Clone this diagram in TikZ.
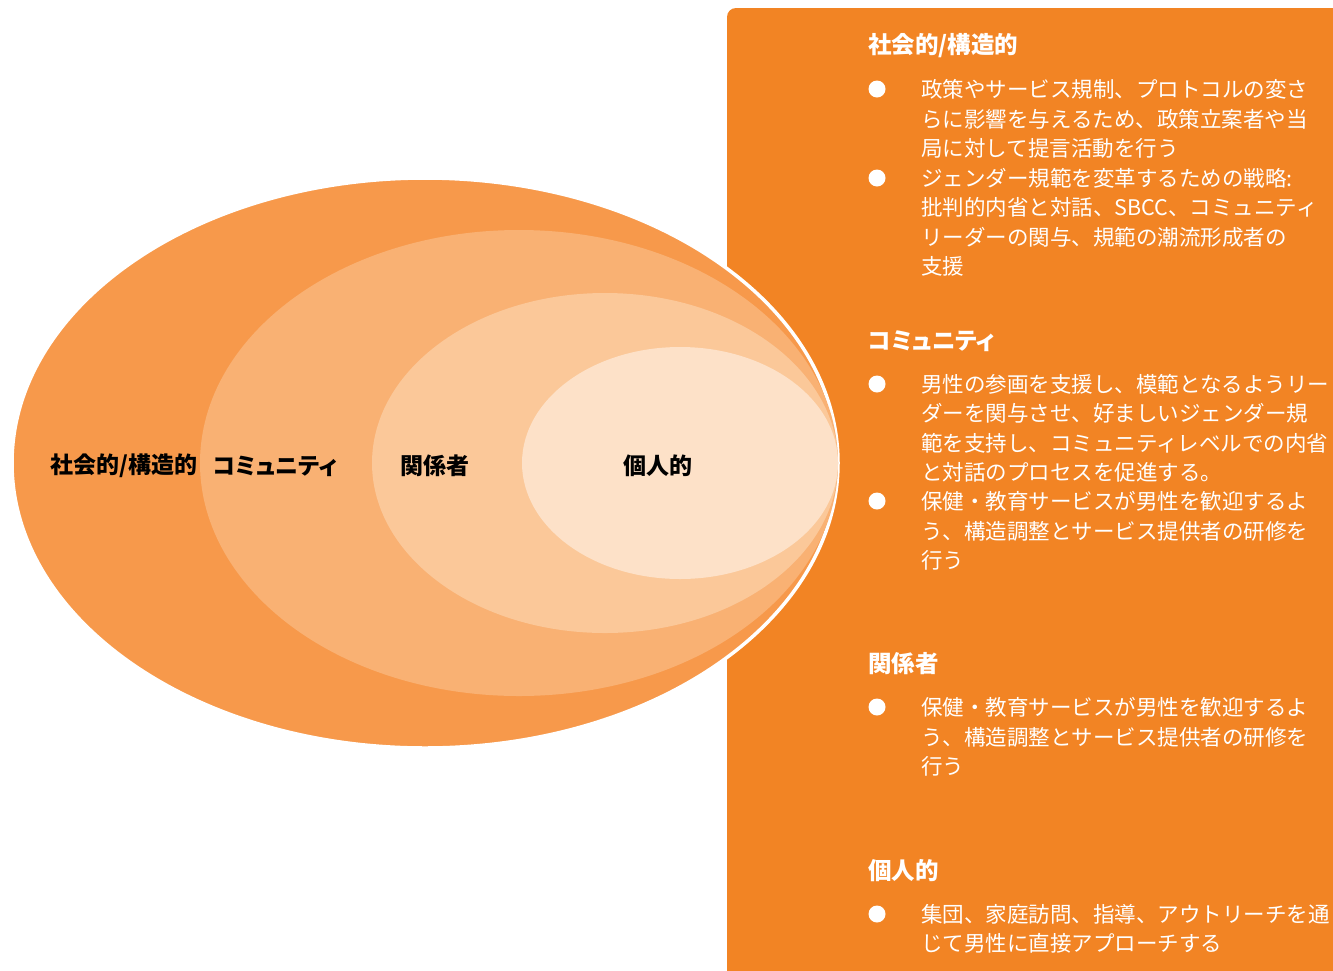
\documentclass[tikz,border=0pt]{standalone}
\usepackage{fontspec}
\setmainfont{Noto Sans CJK JP}
\newfontfamily\jph{Noto Sans CJK JP}[RawFeature=+palt]
\definecolor{rectc}{HTML}{F28424}
\definecolor{e1}{HTML}{F7994B}
\definecolor{e2}{HTML}{F9B173}
\definecolor{e3}{HTML}{FBC899}
\definecolor{e4}{HTML}{FDE1C8}
\tikzset{
  body/.style={anchor=west,inner sep=0pt,text=white,font=\fontsize{21.5}{26}\selectfont},
  head/.style={anchor=west,inner sep=0pt,text=white,font=\jph\bfseries\fontsize{23.5}{26}\selectfont},
  lab/.style={inner sep=0pt,text=black,font=\jph\bfseries\fontsize{23}{26}\selectfont},
  dot/.style={circle,fill=white,inner sep=0pt,minimum size=17pt}
}
\begin{document}
\begin{tikzpicture}[x=1pt,y=-1pt]
\useasboundingbox (0,0) rectangle (1333,970);
% panel
\fill[rectc,rounded corners=9pt] (727,8) -- (1345,8) -- (1345,985) -- (727,985) -- cycle;
% ellipses
\fill[e1,draw=white,line width=3.5pt] (425,463) ellipse [x radius=413pt, y radius=285pt];
\fill[e2] (519,463) ellipse [x radius=319pt, y radius=233pt];
\fill[e3] (605,463) ellipse [x radius=233pt, y radius=170pt];
\fill[e4] (680,463) ellipse [x radius=158pt, y radius=116pt];
% ellipse labels
\node[lab] (l1) at (124,466) {社会的/構造的};
\node[lab] (l2) at (275,466) {コミュニティ};
\node[lab] (l3) at (435,466) {関係者};
\node[lab] (l4) at (658,466) {個人的};
% section 1
\node[head] (h1) at (868,46) {社会的/構造的};
\node[dot] (d11) at (877,89) {};
\node[body] (t111) at (921,89) {政策やサービス規制、プロトコルの変さ};
\node[body] (t112) at (921,119) {らに影響を与えるため、政策立案者や当};
\node[body] (t113) at (921,148) {局に対して提言活動を行う};
\node[dot] (d12) at (877,178) {};
\node[body] (t121) at (921,178) {ジェンダー規範を変革するための戦略:};
\node[body] (t122) at (921,207) {批判的内省と対話、SBCC、コミュニティ};
\node[body] (t123) at (921,237) {リーダーの関与、規範の潮流形成者の};
\node[body] (t124) at (921,266) {支援};
% section 2
\node[head] (h2) at (868,341) {コミュニティ};
\node[dot] (d21) at (877,384) {};
\node[body] (t211) at (921,384) {男性の参画を支援し、模範となるようリー};
\node[body] (t212) at (921,413) {ダーを関与させ、好ましいジェンダー規};
\node[body] (t213) at (921,443) {範を支持し、コミュニティレベルでの内省};
\node[body] (t214) at (921,472) {と対話のプロセスを促進する。};
\node[dot] (d22) at (877,501) {};
\node[body] (t221) at (921,501) {保健・教育サービスが男性を歓迎するよ};
\node[body] (t222) at (921,531) {う、構造調整とサービス提供者の研修を};
\node[body] (t223) at (921,560) {行う};
% section 3
\node[head] (h3) at (868,664) {関係者};
\node[dot] (d31) at (877,707) {};
\node[body] (t311) at (921,707) {保健・教育サービスが男性を歓迎するよ};
\node[body] (t312) at (921,737) {う、構造調整とサービス提供者の研修を};
\node[body] (t313) at (921,766) {行う};
% section 4
\node[head] (h4) at (868,871) {個人的};
\node[dot] (d41) at (877,914) {};
\node[body] (t411) at (921,914) {集団、家庭訪問、指導、アウトリーチを通};
\node[body] (t412) at (921,943) {じて男性に直接アプローチする};
\end{tikzpicture}
\end{document}
